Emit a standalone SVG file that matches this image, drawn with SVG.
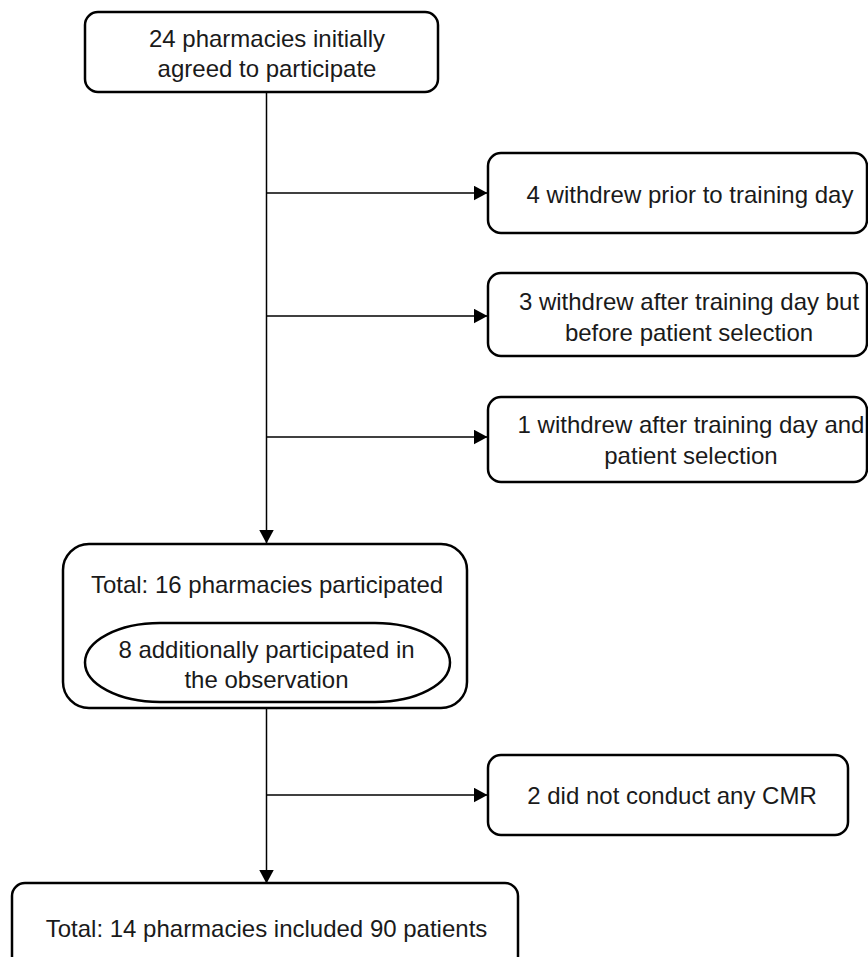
<svg xmlns="http://www.w3.org/2000/svg" width="868" height="957" viewBox="0 0 868 957">
<style>
.box{fill:#fff;stroke:#000;stroke-width:2.5}
.t{font-family:"Liberation Sans",Arial,sans-serif;font-size:24px;fill:#1a1a1a;text-anchor:middle}
.c{fill:none;stroke:#000;stroke-width:1.5}
</style>
<defs>
<marker id="ah" markerWidth="14" markerHeight="15" refX="13.5" refY="7.5" orient="auto" markerUnits="userSpaceOnUse">
<path d="M0,0 L14,7.5 L0,15 Z" fill="#000"/>
</marker>
</defs>
<g id="connectors">
<line class="c" x1="266.5" y1="92" x2="266.5" y2="543" marker-end="url(#ah)"/>
<line class="c" x1="266.5" y1="193" x2="487" y2="193" marker-end="url(#ah)"/>
<line class="c" x1="266.5" y1="316" x2="487" y2="316" marker-end="url(#ah)"/>
<line class="c" x1="266.5" y1="437" x2="487" y2="437" marker-end="url(#ah)"/>
<line class="c" x1="266.5" y1="708" x2="266.5" y2="883" marker-end="url(#ah)"/>
<line class="c" x1="266.5" y1="795" x2="487" y2="795" marker-end="url(#ah)"/>
</g>
<g id="n1">
<rect class="box" x="85" y="12" width="353" height="80" rx="13"/>
<text class="t" x="267" y="47">24 pharmacies initially</text>
<text class="t" x="267" y="77">agreed to participate</text>
</g>
<g id="n2">
<rect class="box" x="488" y="153" width="379" height="80" rx="13"/>
<text class="t" x="690" y="203">4 withdrew prior to training day</text>
</g>
<g id="n3">
<rect class="box" x="488" y="273" width="379" height="83" rx="13"/>
<text class="t" x="689" y="310">3 withdrew after training day but</text>
<text class="t" x="689" y="341">before patient selection</text>
</g>
<g id="n4">
<rect class="box" x="488" y="397" width="379" height="85" rx="13"/>
<text class="t" x="691" y="433">1 withdrew after training day and</text>
<text class="t" x="691" y="464">patient selection</text>
</g>
<g id="n5">
<rect class="box" x="63" y="544" width="404" height="164" rx="26"/>
<text class="t" x="267" y="593">Total: 16 pharmacies participated</text>
<g id="n5a">
<rect class="box" x="85" y="623" width="365" height="79" rx="75" ry="39.5"/>
<text class="t" x="266.5" y="658">8 additionally participated in</text>
<text class="t" x="266.5" y="688">the observation</text>
</g>
</g>
<g id="n6">
<rect class="box" x="488" y="755" width="360" height="80" rx="13"/>
<text class="t" x="672" y="804">2 did not conduct any CMR</text>
</g>
<g id="n7">
<rect class="box" x="12" y="883" width="506" height="100" rx="13"/>
<text class="t" x="266.5" y="937">Total: 14 pharmacies included 90 patients</text>
</g>
</svg>
